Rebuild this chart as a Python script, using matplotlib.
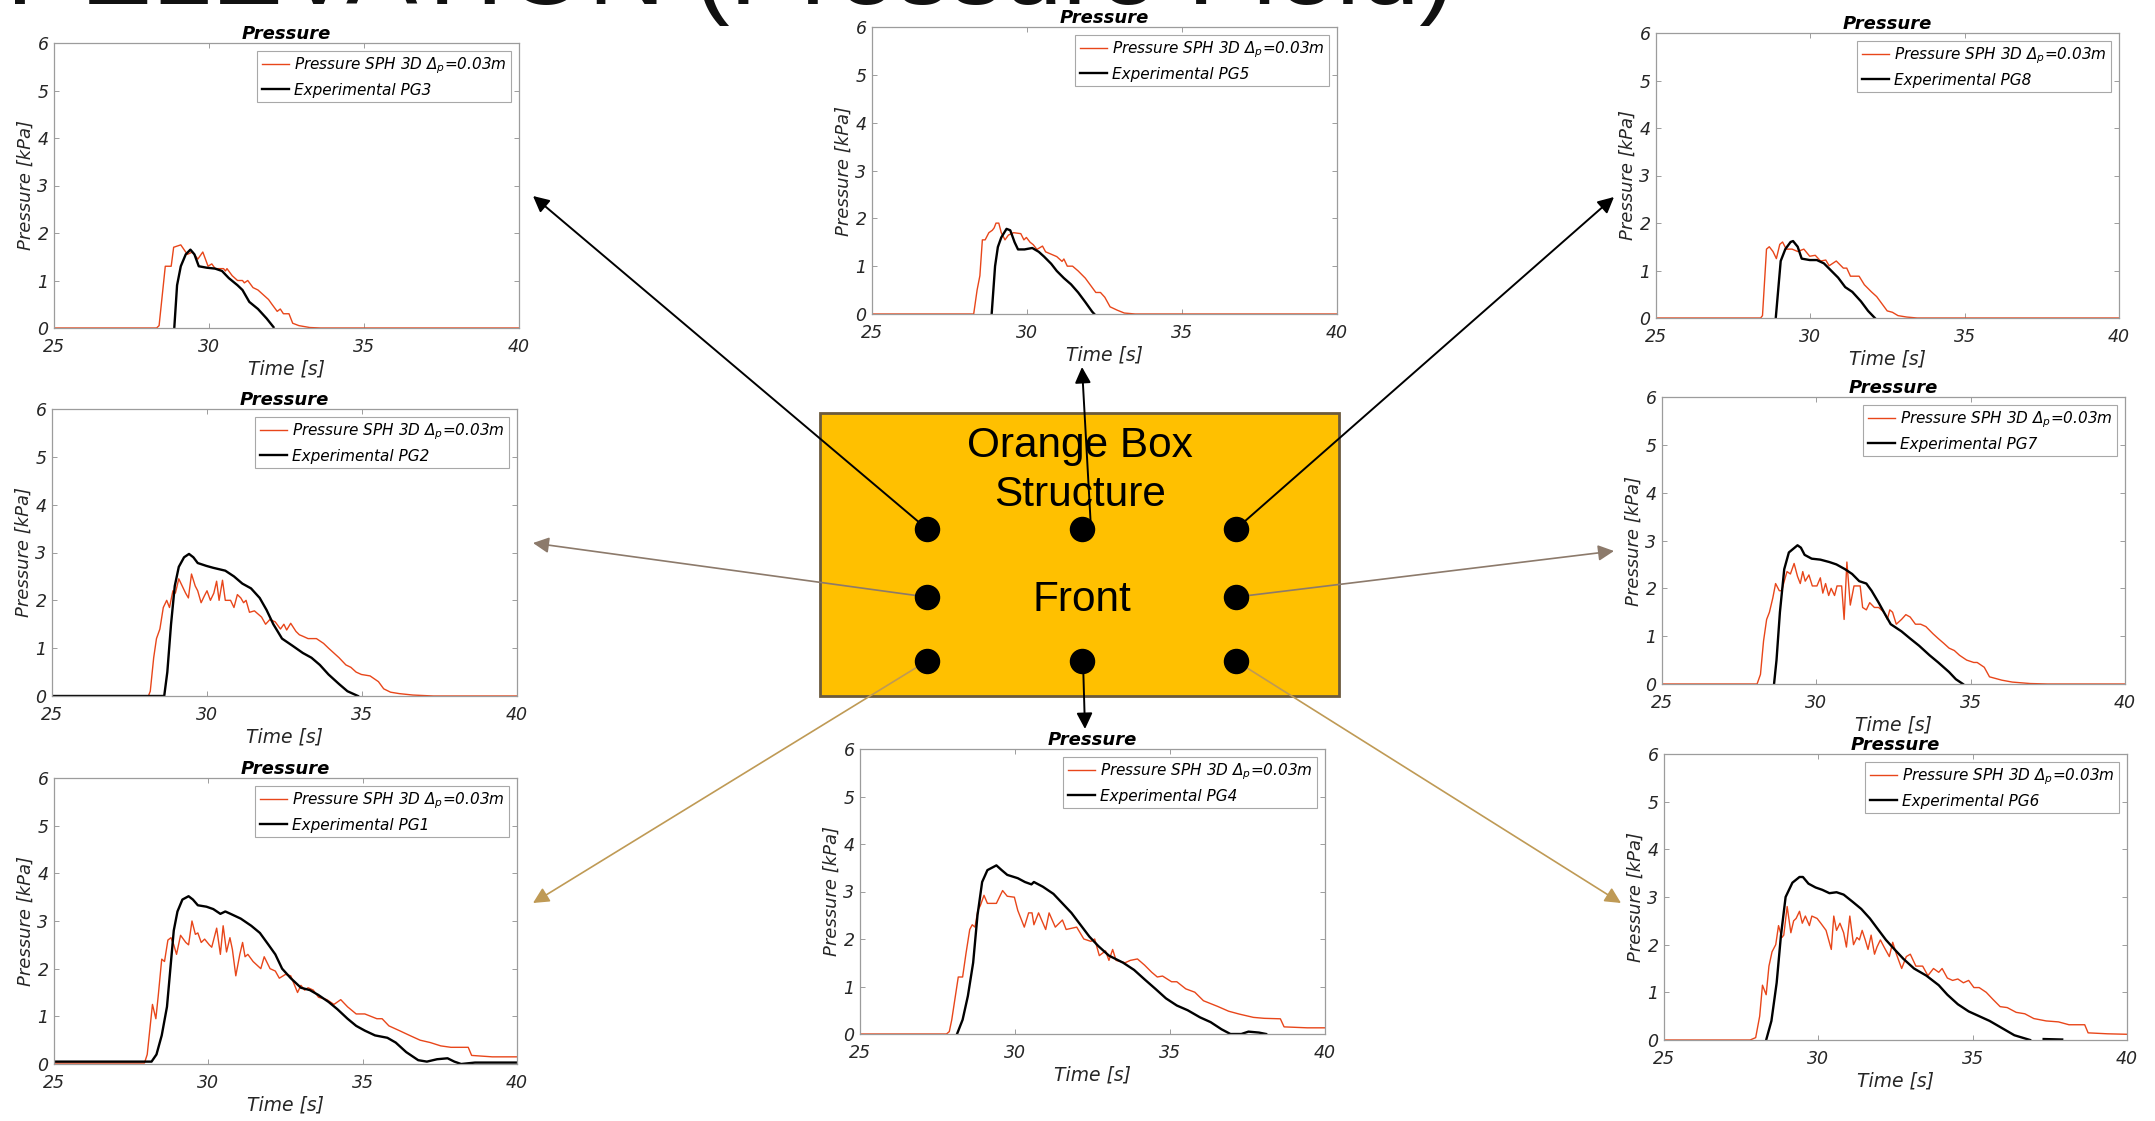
import matplotlib
matplotlib.use('Agg')
import matplotlib.pyplot as plt
from matplotlib.patches import Rectangle

nan = float('nan')

# ---------------- data (time [s], pressure [kPa]) ----------------
x_ticks = [25, 30, 35, 40]
y_ticks = [0, 1, 2, 3, 4, 5, 6]
sph_label = r'Pressure SPH 3D $\Delta_p$=0.03m'

pg3_sph_t = [25, 28.31, 28.39, 28.59, 28.78, 28.86, 29.09, 29.3, 29.47, 29.64, 29.8, 29.97, 30.09, 30.2, 30.47, 30.53, 30.58, 30.75, 30.92, 31.08, 31.14, 31.25, 31.42, 31.58, 31.75, 31.92, 32.03, 32.2, 32.3, 32.4, 32.58, 32.7, 32.9, 33.25, 33.6, 40]
pg3_sph_p = [0, 0, 0.05, 1.3, 1.3, 1.7, 1.75, 1.55, 1.6, 1.45, 1.6, 1.3, 1.35, 1.25, 1.25, 1.2, 1.25, 1.1, 1.0, 1.0, 0.95, 1.0, 0.85, 0.8, 0.7, 0.6, 0.5, 0.35, 0.4, 0.3, 0.3, 0.1, 0.05, 0.01, 0, 0]
pg3_exp_t = [28.88, 28.97, 29.09, 29.25, 29.4, 29.53, 29.67, 29.92, 30.2, 30.42, 30.64, 30.92, 31.08, 31.3, 31.58, 31.86, 32.08]
pg3_exp_p = [0, 0.9, 1.3, 1.55, 1.65, 1.55, 1.3, 1.27, 1.25, 1.2, 1.05, 0.9, 0.8, 0.55, 0.4, 0.2, 0.02]

pg5_sph_t = [25, 28.28, 28.39, 28.48, 28.56, 28.65, 28.77, 28.88, 28.94, 29.0, 29.09, 29.17, 29.29, 29.4, 29.57, 29.8, 29.9, 29.98, 30.1, 30.2, 30.32, 30.5, 30.6, 30.78, 30.96, 31.13, 31.19, 31.3, 31.47, 31.65, 31.88, 32.05, 32.22, 32.37, 32.51, 32.68, 32.91, 33.14, 33.49, 40]
pg5_sph_p = [0, 0, 0.5, 0.8, 1.55, 1.55, 1.7, 1.75, 1.8, 1.9, 1.9, 1.7, 1.55, 1.65, 1.7, 1.68, 1.55, 1.6, 1.5, 1.45, 1.35, 1.42, 1.3, 1.25, 1.2, 1.1, 1.15, 1.0, 1.0, 0.9, 0.75, 0.6, 0.45, 0.45, 0.35, 0.15, 0.08, 0.02, 0, 0]
pg5_exp_t = [28.86, 28.97, 29.06, 29.17, 29.34, 29.46, 29.6, 29.71, 29.92, 30.17, 30.38, 30.55, 30.78, 30.96, 31.19, 31.42, 31.65, 31.88, 32.1, 32.17]
pg5_exp_p = [0, 1.0, 1.4, 1.6, 1.78, 1.75, 1.5, 1.35, 1.35, 1.38, 1.3, 1.2, 1.05, 0.9, 0.75, 0.62, 0.45, 0.25, 0.05, 0]

pg8_sph_t = [25, 28.39, 28.45, 28.58, 28.67, 28.79, 28.9, 29.01, 29.1, 29.22, 29.41, 29.59, 29.79, 29.98, 30.16, 30.33, 30.5, 30.61, 30.84, 31.07, 31.18, 31.3, 31.58, 31.75, 31.98, 32.15, 32.32, 32.49, 32.66, 32.84, 33.12, 33.46, 40]
pg8_sph_p = [0, 0, 0.05, 1.45, 1.5, 1.4, 1.25, 1.55, 1.6, 1.45, 1.45, 1.4, 1.45, 1.3, 1.32, 1.2, 1.22, 1.1, 1.2, 1.05, 1.05, 0.88, 0.88, 0.7, 0.55, 0.45, 0.3, 0.15, 0.12, 0.05, 0.02, 0, 0]
pg8_exp_t = [28.88, 29.04, 29.19, 29.36, 29.44, 29.59, 29.72, 29.98, 30.21, 30.44, 30.67, 30.9, 31.13, 31.36, 31.64, 31.87, 32.09]
pg8_exp_p = [0, 1.2, 1.45, 1.6, 1.62, 1.5, 1.25, 1.22, 1.22, 1.15, 1.0, 0.85, 0.65, 0.55, 0.35, 0.15, 0]

pg2_sph_t = [25, 28.11, 28.17, 28.28, 28.37, 28.48, 28.59, 28.7, 28.79, 28.9, 28.98, 29.09, 29.2, 29.31, 29.4, 29.5, 29.62, 29.7, 29.81, 29.92, 30.0, 30.11, 30.22, 30.31, 30.39, 30.5, 30.59, 30.76, 30.87, 30.98, 31.09, 31.18, 31.26, 31.37, 31.53, 31.76, 31.89, 32.03, 32.2, 32.37, 32.48, 32.57, 32.7, 32.87, 32.98, 33.09, 33.26, 33.53, 33.76, 33.92, 34.09, 34.26, 34.48, 34.64, 34.81, 34.98, 35.26, 35.53, 35.7, 35.92, 36.2, 36.64, 37.31, 40]
pg2_sph_p = [0, 0, 0.1, 0.8, 1.2, 1.4, 1.85, 2.0, 1.85, 2.2, 2.15, 2.45, 2.3, 2.15, 2.05, 2.55, 2.3, 2.2, 1.95, 2.1, 2.2, 2.0, 2.15, 2.4, 2.0, 2.42, 2.0, 2.0, 1.85, 2.12, 2.05, 1.95, 2.0, 1.75, 1.78, 1.65, 1.5, 1.6, 1.55, 1.4, 1.5, 1.38, 1.52, 1.35, 1.28, 1.25, 1.2, 1.2, 1.1, 1.0, 0.9, 0.8, 0.65, 0.6, 0.5, 0.45, 0.42, 0.3, 0.15, 0.08, 0.05, 0.02, 0, 0]
pg2_exp_t = [25, 28.62, 28.72, 28.84, 28.96, 29.09, 29.26, 29.42, 29.56, 29.7, 29.98, 30.2, 30.59, 30.87, 31.14, 31.42, 31.7, 31.92, 32.14, 32.42, 32.76, 33.09, 33.37, 33.64, 33.92, 34.26, 34.53, 34.87]
pg2_exp_p = [0, 0, 0.5, 1.5, 2.3, 2.7, 2.9, 2.97, 2.9, 2.78, 2.72, 2.68, 2.62, 2.5, 2.35, 2.25, 2.05, 1.8, 1.5, 1.2, 1.05, 0.9, 0.8, 0.65, 0.45, 0.25, 0.1, 0]

pg1_sph_t = [25, 27.93, 28.02, 28.19, 28.3, 28.38, 28.49, 28.58, 28.69, 28.79, 28.88, 28.97, 29.1, 29.27, 29.36, 29.47, 29.58, 29.66, 29.77, 29.88, 30.03, 30.11, 30.27, 30.39, 30.48, 30.59, 30.7, 30.78, 30.89, 31.02, 31.11, 31.19, 31.28, 31.45, 31.7, 31.81, 32.0, 32.17, 32.3, 32.5, 32.67, 32.89, 33.0, 33.12, 33.23, 33.4, 33.57, 33.84, 34.07, 34.29, 34.51, 34.79, 35.07, 35.46, 35.63, 35.85, 36.19, 36.52, 36.86, 37.19, 37.53, 37.86, 38.42, 38.53, 39.2, 40]
pg1_sph_p = [0.02, 0.02, 0.2, 1.25, 0.95, 1.45, 2.2, 2.15, 2.6, 2.65, 2.5, 2.3, 2.7, 2.55, 2.5, 3.0, 2.72, 2.75, 2.55, 2.62, 2.5, 2.45, 2.85, 2.3, 2.9, 2.35, 2.65, 2.4, 1.85, 2.3, 2.55, 2.25, 2.3, 2.15, 2.0, 2.25, 2.0, 1.95, 1.8, 1.88, 1.85, 1.5, 1.65, 1.55, 1.6, 1.55, 1.4, 1.35, 1.25, 1.35, 1.2, 1.05, 1.05, 0.95, 0.95, 0.8, 0.7, 0.6, 0.5, 0.45, 0.38, 0.35, 0.35, 0.18, 0.15, 0.15]
pg1_exp_t = [25, 28.04, 28.16, 28.32, 28.49, 28.66, 28.77, 28.88, 29.0, 29.16, 29.36, 29.5, 29.66, 29.94, 30.16, 30.39, 30.55, 30.72, 31.05, 31.39, 31.67, 31.95, 32.17, 32.39, 32.67, 33.0, 33.29, 33.56, 33.9, 34.18, 34.51, 34.79, 35.07, 35.4, 35.8, 36.07, 36.41, 36.8, 37.08, 37.41, 37.75, 37.97, 38.19, 38.64, 40]
pg1_exp_p = [0.05, 0.05, 0.05, 0.2, 0.6, 1.2, 2.0, 2.8, 3.2, 3.45, 3.52, 3.45, 3.33, 3.3, 3.25, 3.15, 3.2, 3.15, 3.05, 2.9, 2.75, 2.5, 2.3, 2.0, 1.8, 1.6, 1.55, 1.45, 1.3, 1.15, 0.95, 0.8, 0.7, 0.6, 0.55, 0.45, 0.25, 0.08, 0.05, 0.1, 0.12, 0.05, 0, 0.03, 0.03]

pg4_sph_t = [25, 27.79, 27.88, 27.96, 28.17, 28.31, 28.42, 28.54, 28.62, 28.71, 28.8, 28.88, 29.0, 29.11, 29.4, 29.6, 29.75, 29.98, 30.09, 30.3, 30.44, 30.55, 30.61, 30.76, 30.99, 31.1, 31.3, 31.53, 31.65, 31.99, 32.22, 32.45, 32.57, 32.72, 32.92, 33.03, 33.15, 33.26, 33.55, 33.72, 33.95, 34.18, 34.41, 34.59, 34.76, 35.05, 35.22, 35.51, 35.8, 36.08, 36.54, 36.89, 37.23, 37.69, 38.04, 38.56, 38.68, 39.43, 40]
pg4_sph_p = [0, 0, 0.05, 0.3, 1.2, 1.2, 1.7, 2.2, 2.3, 2.25, 2.6, 2.7, 2.92, 2.75, 2.75, 3.02, 2.9, 2.88, 2.6, 2.25, 2.55, 2.55, 2.3, 2.55, 2.2, 2.55, 2.25, 2.4, 2.2, 2.25, 2.0, 1.95, 2.0, 1.65, 1.75, 1.55, 1.78, 1.55, 1.5, 1.55, 1.58, 1.45, 1.3, 1.2, 1.22, 1.1, 1.1, 0.95, 0.88, 0.7, 0.58, 0.48, 0.42, 0.35, 0.33, 0.32, 0.15, 0.13, 0.13]
pg4_exp_t = [28.13, 28.31, 28.48, 28.65, 28.79, 28.94, 29.11, 29.4, 29.57, 29.75, 30.09, 30.32, 30.53, 30.61, 30.9, 31.24, 31.53, 31.82, 32.11, 32.4, 32.69, 33.03, 33.49, 33.84, 34.18, 34.53, 34.87, 35.22, 35.57, 35.97, 36.31, 36.66, 36.95, 37.3, 37.53, 37.87, 38.1]
pg4_exp_p = [0, 0.3, 0.8, 1.5, 2.5, 3.2, 3.45, 3.55, 3.45, 3.35, 3.28, 3.2, 3.15, 3.2, 3.1, 2.95, 2.75, 2.55, 2.3, 2.05, 1.85, 1.65, 1.5, 1.35, 1.15, 0.95, 0.75, 0.6, 0.5, 0.35, 0.25, 0.1, 0, 0, 0.05, 0.03, 0]

pg7_sph_t = [25, 28.08, 28.19, 28.29, 28.39, 28.48, 28.59, 28.68, 28.8, 28.88, 28.96, 29.05, 29.16, 29.28, 29.39, 29.48, 29.56, 29.64, 29.76, 29.87, 30.02, 30.13, 30.21, 30.3, 30.4, 30.48, 30.59, 30.67, 30.82, 30.9, 30.99, 31.1, 31.22, 31.42, 31.5, 31.62, 31.73, 31.88, 32.02, 32.19, 32.3, 32.38, 32.47, 32.59, 32.76, 32.9, 33.04, 33.21, 33.38, 33.55, 33.78, 33.95, 34.13, 34.3, 34.47, 34.64, 34.87, 35.1, 35.21, 35.44, 35.61, 36.01, 36.35, 36.92, 37.49, 40]
pg7_sph_p = [0, 0, 0.2, 0.9, 1.35, 1.5, 1.8, 2.1, 1.95, 1.95, 2.15, 2.35, 2.3, 2.52, 2.25, 2.1, 2.35, 2.15, 2.28, 2.05, 2.05, 2.22, 1.9, 2.1, 1.85, 2.0, 1.85, 2.05, 2.05, 1.35, 2.55, 1.65, 2.05, 2.05, 1.6, 1.55, 1.7, 1.6, 1.6, 1.5, 1.35, 1.55, 1.5, 1.25, 1.35, 1.45, 1.4, 1.25, 1.25, 1.2, 1.05, 0.95, 0.85, 0.75, 0.7, 0.6, 0.5, 0.45, 0.45, 0.35, 0.15, 0.08, 0.04, 0.01, 0, 0]
pg7_exp_t = [28.63, 28.71, 28.82, 28.96, 29.11, 29.39, 29.5, 29.62, 29.85, 30.13, 30.42, 30.65, 30.93, 31.16, 31.39, 31.62, 31.79, 32.02, 32.19, 32.41, 32.76, 33.04, 33.33, 33.67, 33.95, 34.3, 34.52, 34.75]
pg7_exp_p = [0, 0.5, 1.5, 2.4, 2.75, 2.9, 2.85, 2.7, 2.62, 2.6, 2.55, 2.5, 2.4, 2.3, 2.15, 2.1, 1.95, 1.7, 1.5, 1.25, 1.1, 0.95, 0.8, 0.6, 0.45, 0.25, 0.1, 0]

pg6_sph_t = [25, 27.79, 27.97, 28.1, 28.19, 28.31, 28.4, 28.5, 28.62, 28.71, 28.82, 28.88, 28.99, 29.11, 29.2, 29.28, 29.39, 29.48, 29.58, 29.71, 29.79, 29.96, 30.08, 30.25, 30.42, 30.5, 30.59, 30.7, 30.82, 30.91, 31.02, 31.14, 31.25, 31.33, 31.42, 31.52, 31.61, 31.71, 31.82, 31.9, 32.01, 32.13, 32.3, 32.41, 32.53, 32.7, 32.85, 32.98, 33.16, 33.38, 33.55, 33.73, 33.9, 34.01, 34.18, 34.35, 34.52, 34.7, 34.87, 35.04, 35.21, 35.44, 35.66, 35.89, 36.12, 36.41, 36.69, 36.98, 37.38, 37.78, 38.12, 38.63, 38.74, 39.37, 40]
pg6_sph_p = [0, 0, 0.05, 0.5, 1.15, 0.95, 1.55, 1.85, 2.0, 2.4, 2.15, 2.2, 2.8, 2.25, 2.5, 2.55, 2.7, 2.45, 2.6, 2.4, 2.6, 2.55, 2.45, 2.3, 1.9, 2.6, 2.3, 2.45, 2.25, 1.95, 2.6, 2.0, 2.15, 2.1, 2.3, 2.1, 1.9, 2.2, 1.8, 1.95, 2.1, 1.95, 1.75, 2.05, 1.8, 1.5, 1.75, 1.8, 1.55, 1.55, 1.35, 1.5, 1.42, 1.5, 1.3, 1.25, 1.28, 1.2, 1.25, 1.1, 1.1, 1.0, 0.85, 0.7, 0.68, 0.58, 0.55, 0.45, 0.4, 0.38, 0.32, 0.32, 0.15, 0.13, 0.12]
pg6_exp_t = [28.31, 28.48, 28.65, 28.79, 28.94, 29.16, 29.39, 29.5, 29.68, 29.91, 30.13, 30.36, 30.59, 30.82, 31.11, 31.39, 31.67, 31.9, 32.19, 32.47, 32.76, 33.1, 33.5, 33.9, 34.18, 34.52, 34.87, 35.21, 35.55, 35.95, 36.35, 36.86, 37.3, 37.3, 37.9]
pg6_exp_p = [0, 0.4, 1.2, 2.2, 3.0, 3.3, 3.42, 3.42, 3.28, 3.2, 3.15, 3.08, 3.1, 3.05, 2.9, 2.75, 2.55, 2.35, 2.1, 1.9, 1.7, 1.5, 1.35, 1.15, 0.95, 0.75, 0.6, 0.5, 0.4, 0.25, 0.1, 0, nan, 0.02, 0.01]

# ---------------- style ----------------
W, H, DPI = 2155, 1121, 100
ORANGE = '#e8461a'
SPINE = '#9c9c9c'
TXT = '#262626'
CHART_FONT = 'DejaVu Sans'
BOX_FONT = 'Liberation Sans'

plt.rcParams['font.family'] = [CHART_FONT]
plt.rcParams['mathtext.fontset'] = 'custom'
plt.rcParams['mathtext.rm'] = CHART_FONT + ':italic'
plt.rcParams['mathtext.it'] = CHART_FONT + ':italic'
plt.rcParams['mathtext.sf'] = CHART_FONT + ':italic'

fig = plt.figure(figsize=(W / DPI, H / DPI), dpi=DPI)
fig.patch.set_facecolor('white')


def rect(l, t, r, b):
    return [l / W, 1 - b / H, (r - l) / W, (b - t) / H]


panels = [
    ('PG3', (54, 43, 519, 328), pg3_sph_t, pg3_sph_p, pg3_exp_t, pg3_exp_p),
    ('PG2', (52, 409, 517, 696), pg2_sph_t, pg2_sph_p, pg2_exp_t, pg2_exp_p),
    ('PG1', (54, 778, 517, 1064), pg1_sph_t, pg1_sph_p, pg1_exp_t, pg1_exp_p),
    ('PG5', (872, 27, 1337, 314), pg5_sph_t, pg5_sph_p, pg5_exp_t, pg5_exp_p),
    ('PG4', (860, 749, 1325, 1034), pg4_sph_t, pg4_sph_p, pg4_exp_t, pg4_exp_p),
    ('PG8', (1656, 33, 2119, 318), pg8_sph_t, pg8_sph_p, pg8_exp_t, pg8_exp_p),
    ('PG7', (1662, 397, 2125, 684), pg7_sph_t, pg7_sph_p, pg7_exp_t, pg7_exp_p),
    ('PG6', (1664, 754, 2127, 1040), pg6_sph_t, pg6_sph_p, pg6_exp_t, pg6_exp_p),
]

for name, box, st, sp, et, ep in panels:
    ax = fig.add_axes(rect(*box))
    ax.plot(st, sp, color=ORANGE, lw=1.0, label=sph_label)
    ax.plot(et, ep, color='black', lw=1.7, label='Experimental ' + name)
    ax.set_xlim(25, 40)
    ax.set_ylim(0, 6)
    ax.set_xticks(x_ticks)
    ax.set_yticks(y_ticks)
    ax.set_xticklabels([str(v) for v in x_ticks], fontstyle='italic', fontsize=12.5, color=TXT)
    ax.set_yticklabels([str(v) for v in y_ticks], fontstyle='italic', fontsize=12.5, color=TXT)
    ax.tick_params(direction='in', length=3.5, width=0.7, color=SPINE,
                   top=True, right=True)
    ax.tick_params(axis='x', pad=7)
    ax.tick_params(axis='y', pad=4)
    for s in ax.spines.values():
        s.set_color(SPINE)
        s.set_linewidth(0.9)
    ax.set_xlabel('Time [s]', fontstyle='italic', fontsize=13.5, color=TXT, labelpad=3)
    ax.set_ylabel('Pressure [kPa]', fontstyle='italic', fontsize=13, color=TXT, labelpad=2)
    ax.set_title('Pressure', fontstyle='italic', fontweight='bold', fontsize=13,
                 color='black', pad=3)
    leg = ax.legend(loc='upper right', frameon=True, fancybox=False,
                    framealpha=1, edgecolor='#a8a8a8', borderaxespad=0.5,
                    handlelength=1.8, handletextpad=0.3, borderpad=0.3,
                    labelspacing=0.45, prop={'style': 'italic', 'size': 11, 'family': CHART_FONT})
    leg.get_frame().set_linewidth(0.8)

# ---------------- overlay (diagram) ----------------
ov = fig.add_axes([0, 0, 1, 1], facecolor='none')
ov.set_xlim(0, W)
ov.set_ylim(H, 0)
ov.axis('off')

ov.add_patch(Rectangle((820, 413), 519, 283, facecolor='#FFC000',
                       edgecolor='#6b5a3c', lw=2, zorder=1))
for label, (tx, ty) in [('Orange Box', (1080, 446)), ('Structure', (1080, 495)),
                        ('Front', (1082, 600))]:
    ov.text(tx, ty, label, ha='center', va='center', fontsize=30.5,
            family=BOX_FONT, color='black', zorder=3)

BLACK = 'black'
GREY = '#8c7a6b'
GOLD = '#bf9a55'
gauges = [
    ((927, 529), (533, 196), BLACK, 1.4),
    ((1091, 529), (1082, 367), BLACK, 1.4),
    ((1236, 529), (1614, 197), BLACK, 1.4),
    ((927, 597), (533, 543), GREY, 1.2),
    ((1236, 597), (1614, 551), GREY, 1.2),
    ((927, 661), (533, 903), GOLD, 1.2),
    ((1083, 661), (1085, 729), BLACK, 1.4),
    ((1236, 661), (1621, 903), GOLD, 1.2),
]
for (sx, sy), (tx, ty), col, lw in gauges:
    ov.annotate('', xy=(tx, ty), xytext=(sx, sy), zorder=4,
                arrowprops=dict(arrowstyle='-|>', color=col, lw=lw,
                                mutation_scale=24, shrinkA=0, shrinkB=0))

dot_x = [927, 1082, 1236, 927, 1236, 927, 1082, 1236]
dot_y = [529, 529, 529, 597, 597, 661, 661, 661]
ov.scatter(dot_x, dot_y, s=300, color='black', zorder=5)

# big heading, mostly cut off by the top edge
ov.text(665, 4, 'FRONT ELEVATION', ha='right', va='baseline', fontsize=77,
        family=BOX_FONT, color='#111111', clip_on=False)
ov.text(694, 4, '(Pressure Field)', ha='left', va='baseline', fontsize=77,
        family=BOX_FONT, color='#111111', clip_on=False)

fig.savefig('out.png', dpi=DPI)
